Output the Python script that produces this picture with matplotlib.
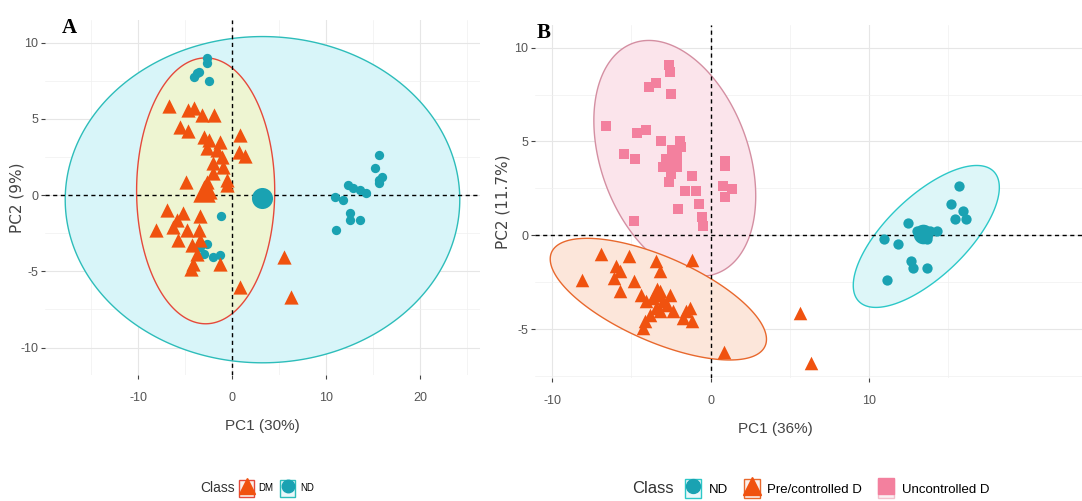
import numpy as np
import matplotlib
matplotlib.use("Agg")
import matplotlib.pyplot as plt
from matplotlib.patches import Rectangle
from matplotlib.lines import Line2D
from matplotlib.legend_handler import HandlerTuple

plt.rcParams['font.family'] = ['Liberation Sans Narrow', 'Liberation Sans', 'DejaVu Sans']
plt.rcParams['axes.unicode_minus'] = False

# ---- panel A data (PC1 30%, PC2 9%) ----
a_dm_x = [-6.67, -4.65, -4.0, -3.16, -1.95, -5.5, -4.7, -2.98, -2.4, -1.28, 0.85, 0.78, 1.38,
          -2.7, -1.63, -1.1, -1.99, -0.92, -2.06, -0.57, -0.5, -4.9, -2.7, -2.87, -2.34,
          -6.95, -5.25, -5.89, -3.4, -8.09, -6.24, -4.82, -5.71, -3.48, -4.29, -3.4, -3.76,
          -4.11, -4.36, -1.28, 0.85, 5.53, 6.24]
a_dm_y = [5.86, 5.6, 5.7, 5.26, 5.26, 4.5, 4.2, 3.84, 3.6, 3.5, 3.95, 2.85, 2.57,
          3.07, 2.96, 2.5, 2.08, 1.86, 1.43, 0.99, 0.66, 0.88, 0.88, 0.33, 0.22,
          -0.99, -1.2, -1.64, -1.38, -2.3, -2.08, -2.3, -2.96, -2.3, -3.29, -2.96, -3.84,
          -4.5, -4.82, -4.5, -6.03, -4.06, -6.69]
a_nd_x = [-2.62, -2.62, -3.76, -4.04, -3.48, -2.45, -1.2, -2.7, -2.98, -1.99, -1.28, -3.4,
          10.96, 11.77, 12.38, 12.9, 13.6, 14.3, 12.55, 12.6, 13.6, 11.1, 15.2, 15.67,
          15.67, 16.0, 15.6]
a_nd_y = [8.99, 8.66, 8.0, 7.74, 8.05, 7.46, -1.38, -3.18, -3.84, -4.06, -3.95, -3.4,
          -0.15, -0.33, 0.66, 0.44, 0.33, 0.15, -1.2, -1.64, -1.64, -2.26, 1.75, 2.63,
          0.99, 1.2, 0.77]
a_mean_dm = [-3.0, 0.3]
a_mean_nd = [3.23, -0.22]
# ellipses: centre x, centre y, half width, half height, tilt coupling
a_ell_nd = [3.25, -0.3, 21.0, 10.7, 0.0]
a_ell_dm = [-2.8, 0.28, 7.35, 8.72, 0.0]

# ---- panel B data (PC1 36%, PC2 11.7%) ----
b_un_x = [-2.62, -2.57, -3.88, -3.42, -2.47, -6.62, -4.68, -4.09, -5.46, -4.75, -3.14,
          -1.94, -2.41, -2.57, -3.0, -2.15, -2.47, -2.64, -1.2, -1.62, -0.89, -2.05, -0.72,
          -0.57, -0.46, -4.85, 0.91, 0.93, 0.8, 0.89, 1.35, -2.15, -1.84]
b_un_y = [9.07, 8.71, 7.91, 8.09, 7.55, 5.8, 5.45, 5.59, 4.34, 4.07, 5.05,
          5.05, 4.52, 3.98, 3.63, 3.63, 3.27, 2.82, 3.18, 2.38, 2.38, 1.39, 1.66,
          0.95, 0.5, 0.77, 3.98, 3.71, 2.64, 2.02, 2.46, 4.16, 4.7]
b_pre_x = [-6.9, -5.15, -8.1, -5.99, -5.74, -6.12, -5.74, -4.83, -3.42, -3.21, -1.2,
           -4.37, -4.05, -3.63, -3.21, -3.0, -2.57, -3.42, -3.84, -4.16, -4.26, -3.21,
           -2.78, -2.36, -1.52, -1.31, -1.2, -1.73, 0.86, 5.65, 6.33]
b_pre_y = [-1.02, -1.11, -2.36, -1.64, -1.91, -2.27, -2.98, -2.45, -1.38, -1.91, -1.29,
           -3.16, -3.52, -3.34, -2.98, -3.52, -3.16, -3.88, -4.23, -4.59, -4.95, -4.05,
           -3.7, -4.05, -4.05, -3.88, -4.59, -4.41, -6.2, -4.14, -6.82]
b_nd_x = [10.99, 11.88, 12.47, 13.04, 13.88, 14.3, 12.68, 12.78, 13.67, 11.14, 15.19,
          15.74, 15.48, 15.99, 16.14, 13.25, 13.67]
b_nd_y = [-0.21, -0.48, 0.68, 0.23, 0.23, 0.23, -1.38, -1.73, -1.73, -2.36, 1.66,
          2.64, 0.86, 1.27, 0.86, -0.04, -0.21]
b_mean_un = [-2.6, 3.9]
b_mean_pre = [-3.4, -3.0]
b_mean_nd = [13.46, 0.05]
b_ell_un = [-2.26, 4.1, 5.12, 6.28, -0.32]
b_ell_pre = [-3.3, -3.4, 6.84, 3.24, -0.66]
b_ell_nd = [13.65, -0.06, 4.62, 3.78, 0.69]

ORANGE = '#F0520F'
TEAL = '#1AA2B2'
PINK = '#F3809E'


def ellipse(ax, e, fc, ec, z=1):
    cx, cy, sx, sy, rho = e
    m = np.array([[sx * sx, rho * sx * sy], [rho * sx * sy, sy * sy]])
    L = np.linalg.cholesky(m)
    t = np.linspace(0, 2 * np.pi, 300)
    pts = L @ np.vstack([np.cos(t), np.sin(t)])
    ax.fill(cx + pts[0], cy + pts[1], facecolor=fc, edgecolor=ec, lw=1.0, zorder=z)


def style(ax, xlim, ylim, xmaj, xmin, ymaj, ymin):
    ax.set_xlim(xlim)
    ax.set_ylim(ylim)
    ax.set_xticks(xmaj)
    ax.set_xticks(xmin, minor=True)
    ax.set_yticks(ymaj)
    ax.set_yticks(ymin, minor=True)
    ax.grid(which='major', color='#E6E6E6', lw=0.8, zorder=0)
    ax.grid(which='minor', color='#F0F0F0', lw=0.5, zorder=0)
    ax.tick_params(which='major', length=3, color='#444444', labelcolor='#555555',
                   labelsize=9)
    ax.tick_params(axis='x', which='major', pad=9)
    ax.tick_params(axis='y', which='major', pad=2)
    ax.tick_params(which='minor', length=0)
    for s in ax.spines.values():
        s.set_visible(False)
    ax.set_axisbelow(True)
    ax.axhline(0, color='black', ls=(0, (3, 2.5)), lw=1.0, zorder=2)
    ax.axvline(0, color='black', ls=(0, (3, 2.5)), lw=1.0, zorder=2)


fig = plt.figure(figsize=(10.82, 5.01), dpi=100)

# panel A
ax1 = fig.add_axes([0.0416, 0.2515, 0.402, 0.709])
style(ax1, (-19.9, 26.4), (-11.8, 11.5), [-10, 0, 10, 20], [-15, -5, 5, 15, 25],
      [-10, -5, 0, 5, 10], [-7.5, -2.5, 2.5, 7.5])
ellipse(ax1, a_ell_nd, '#D8F5F9', '#2DBDBA', 1)
ellipse(ax1, a_ell_dm, '#EEF5D2', '#E5493B', 1.5)
ax1.scatter(a_nd_x, a_nd_y, marker='o', s=45, color=TEAL, lw=0, zorder=3)
ax1.scatter(a_dm_x, a_dm_y, marker='^', s=105, color=ORANGE, lw=0, zorder=4)
ax1.scatter([a_mean_nd[0]], [a_mean_nd[1]], marker='o', s=230, color=TEAL, lw=0, zorder=4)
ax1.scatter([a_mean_dm[0]], [a_mean_dm[1]], marker='^', s=260, color=ORANGE, lw=0, zorder=4)
ax1.set_xlabel('PC1 (30%)', fontsize=11, color='#444444')
ax1.xaxis.set_label_coords(0.5, -0.125)
ax1.set_ylabel('PC2 (9%)', fontsize=11, color='#444444', family=['DejaVu Sans'])
ax1.yaxis.set_label_coords(-0.048, 0.5)
fig.text(0.057, 0.935, 'A', fontsize=15, fontweight='bold', family='Liberation Serif')

# panel B
ax2 = fig.add_axes([0.4945, 0.2455, 0.5055, 0.7045])
style(ax2, (-11.1, 23.5), (-7.6, 11.2), [-10, 0, 10], [-5, 5, 15],
      [-5, 0, 5, 10], [-7.5, -2.5, 2.5, 7.5])
ellipse(ax2, b_ell_un, '#FBE4EB', '#D48FA2', 1)
ellipse(ax2, b_ell_pre, '#FCE6DA', '#E8682D', 1.2)
ellipse(ax2, b_ell_nd, '#DDF6F8', '#2CC8C8', 1)
ax2.scatter(b_un_x, b_un_y, marker='s', s=60, color=PINK, lw=0, zorder=3)
ax2.scatter(b_pre_x, b_pre_y, marker='^', s=95, color=ORANGE, lw=0, zorder=3)
ax2.scatter(b_nd_x, b_nd_y, marker='o', s=55, color=TEAL, lw=0, zorder=3)
ax2.scatter([b_mean_un[0]], [b_mean_un[1]], marker='s', s=130, color=PINK, lw=0, zorder=3)
ax2.scatter([b_mean_pre[0]], [b_mean_pre[1]], marker='^', s=200, color=ORANGE, lw=0, zorder=3)
ax2.scatter([b_mean_nd[0]], [b_mean_nd[1]], marker='o', s=200, color=TEAL, lw=0, zorder=3)
ax2.set_xlabel('PC1 (36%)', fontsize=11, color='#444444')
ax2.xaxis.set_label_coords(0.44, -0.125)
ax2.set_ylabel('PC2 (11.7%)', fontsize=11, color='#444444', family=['DejaVu Sans'])
ax2.yaxis.set_label_coords(-0.045, 0.5)
fig.text(0.496, 0.925, 'B', fontsize=15, fontweight='bold', family='Liberation Serif')


def key(fc, ec, mk, col, ms):
    box = Rectangle((0, 0), 1, 1, facecolor=fc, edgecolor=ec, lw=1.0)
    dot = Line2D([], [], marker=mk, color=col, ls='none', markersize=ms)
    return (box, dot)


tup = {tuple: HandlerTuple(ndivide=1, pad=0)}

# legend A
fig.text(0.185, 0.025, 'Class', fontsize=10, color='#333333', va='center')
fig.legend([key('#FBEFEA', '#E5493B', '^', ORANGE, 12), key('#EAF8FA', '#2DBDBA', 'o', TEAL, 9)],
           ['DM', 'ND'], loc='center left', bbox_to_anchor=(0.213, 0.025), ncol=2,
           frameon=False, fontsize=7, handler_map=tup,
           handlelength=1.5, handleheight=2.3, handletextpad=0.5, columnspacing=0.7)

# legend B
fig.text(0.584, 0.025, 'Class', fontsize=12, color='#333333', va='center')
fig.legend([key('#EAF8FA', '#2CC8C8', 'o', TEAL, 10), key('#FBEFEA', '#E8682D', '^', ORANGE, 13),
            key('#FBEFF2', '#F3C0CC', 's', PINK, 11)],
           ['ND', 'Pre/controlled D', 'Uncontrolled D'], loc='center left',
           bbox_to_anchor=(0.622, 0.025), ncol=3, frameon=False, fontsize=9.5,
           handler_map=tup,
           handlelength=1.2, handleheight=1.8, handletextpad=0.6, columnspacing=1.2)

fig.savefig('out.png', dpi=100)
